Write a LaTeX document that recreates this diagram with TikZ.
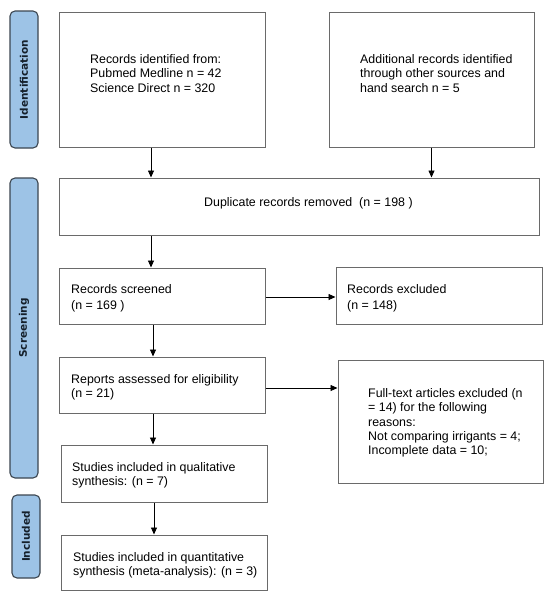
\documentclass[tikz,border=0pt]{standalone}
\usepackage{fontspec}
\setmainfont{Liberation Sans}
\newfontfamily\labfont{DejaVu Sans}
\usetikzlibrary{arrows.meta}
\definecolor{boxline}{HTML}{6A6A6A}
\definecolor{labfill}{HTML}{9DC3E6}
\definecolor{labline}{HTML}{3C4650}
\definecolor{labtext}{HTML}{15202B}
\tikzset{
  box/.style={draw=boxline, line width=1pt, fill=white, inner sep=0pt},
  txt/.style={anchor=west, align=left, inner sep=0pt, font=\fontsize{12.4}{14.3}\selectfont},
  txtwide/.style={anchor=west, align=left, inner sep=0pt, font=\fontsize{12.4}{16}\selectfont},
  phase/.style={draw=labline, line width=1.1pt, fill=labfill, rounded corners=5pt, rotate=90,
    inner sep=0pt, text=labtext, font=\labfont\bfseries\fontsize{10.5}{12}\selectfont},
  arr/.style={draw=black, line width=0.8pt, -{Triangle[length=7pt,width=6pt]}}
}
\begin{document}
\begin{tikzpicture}[x=1pt,y=-1pt]
\useasboundingbox[fill=white] (0,0) rectangle (550,598);

% phase labels
\node[phase, minimum width=137pt, minimum height=28pt] (idl) at (24,79.5) {Identification};
\node[phase, minimum width=300pt, minimum height=28pt] (scl) at (24,328) {Screening};
\node[phase, minimum width=83pt, minimum height=28pt] (inl) at (26,536.5) {Included};

% boxes
\node[box, minimum width=206pt, minimum height=135pt] (b1) at (162,79.5) {};
\node[box, minimum width=205pt, minimum height=135pt] (b2) at (431.5,79.5) {};
\node[box, minimum width=480pt, minimum height=57pt] (dup) at (299,206.5) {};
\node[box, minimum width=206pt, minimum height=56pt] (scr) at (162,296) {};
\node[box, minimum width=206pt, minimum height=57pt] (exc) at (439,295.5) {};
\node[box, minimum width=206pt, minimum height=56pt] (rep) at (162,385) {};
\node[box, minimum width=205pt, minimum height=123pt] (ft) at (440.5,421.5) {};
\node[box, minimum width=206pt, minimum height=57pt] (qual) at (164,473.5) {};
\node[box, minimum width=206pt, minimum height=55pt] (quan) at (164,562.5) {};

% texts
\node[txt] (t1) at (90,73.5) {Records identified from:\\Pubmed Medline n = 42\\Science Direct n = 320};
\node[txt] (t2) at (360,73.5) {Additional records identified\\through other sources and\\hand search n = 5};
\node[txt] (tdup) at (204,203) {Duplicate records removed\ \ (n = 198 )};
\node[txtwide] (tscr) at (71,298.5) {Records screened\\(n = 169 )};
\node[txtwide] (texc) at (347,298.5) {Records excluded\\(n = 148)};
\node[txt] (trep) at (71,387.5) {Reports assessed for eligibility\\(n = 21)};
\node[txt] (tft) at (368,423) {Full-text articles excluded (n\\= 14) for the following\\reasons:\\Not comparing irrigants = 4;\\Incomplete data = 10;};
\node[txt] (tqual) at (72,475.5) {Studies included in qualitative\\synthesis: (n = 7)};
\node[txt] (tquan) at (73,565.5) {Studies included in quantitative\\synthesis (meta-analysis): (n = 3)};

% connector guides
\coordinate (cx1) at (151,0);
\coordinate (cx2) at (153,0);
\coordinate (cx3) at (154,0);
\coordinate (cy1) at (0,297);
\coordinate (cy2) at (0,388);

% connectors
\draw[arr] (cx1 |- b1.south) -- (cx1 |- dup.north);
\draw[arr] (b2.south) -- (b2.south |- dup.north);
\draw[arr] (cx1 |- dup.south) -- (cx1 |- scr.north);
\draw[arr] (scr.east |- cy1) -- (exc.west |- cy1);
\draw[arr] (cx2 |- scr.south) -- (cx2 |- rep.north);
\draw[arr] (rep.east |- cy2) -- (ft.west |- cy2);
\draw[arr] (cx2 |- rep.south) -- (cx2 |- qual.north);
\draw[arr] (cx3 |- qual.south) -- (cx3 |- quan.north);
\end{tikzpicture}
\end{document}
